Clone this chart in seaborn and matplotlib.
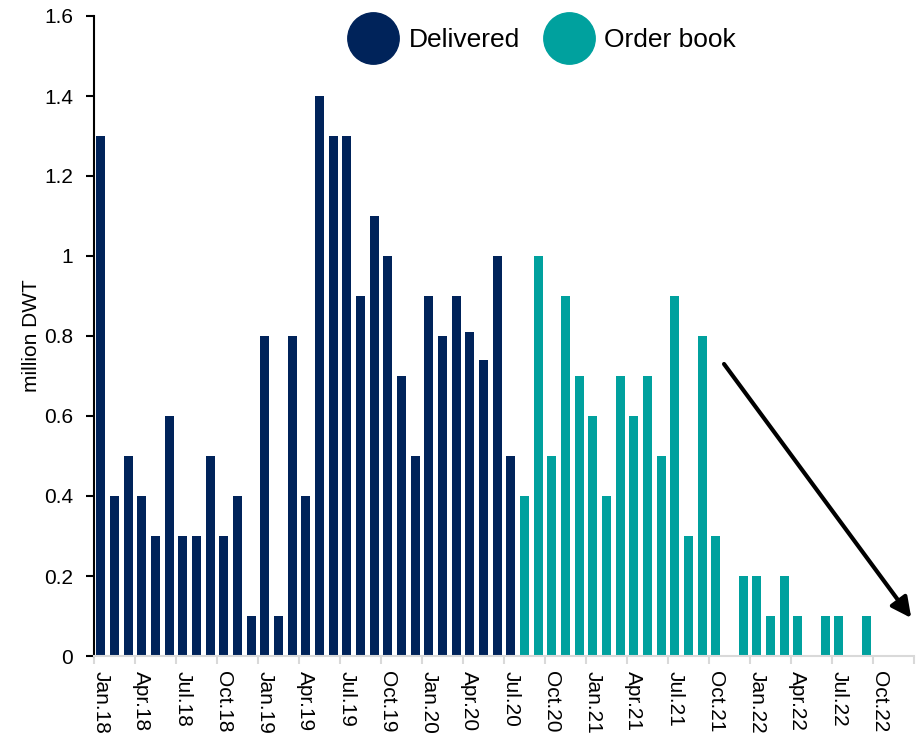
import matplotlib
matplotlib.use("Agg")
import matplotlib.pyplot as plt
from matplotlib.lines import Line2D
from matplotlib.ticker import FixedLocator
import numpy as np
import pandas as pd
import seaborn as sns

# Monthly vessel deliveries and order book, million DWT
months = [p.strftime("%b.%y") for p in pd.period_range("2018-01", "2022-12", freq="M")]

delivered = [
    1.3, 0.4, 0.5, 0.4, 0.3, 0.6, 0.3, 0.3, 0.5, 0.3, 0.4, 0.1,   # 2018
    0.8, 0.1, 0.8, 0.4, 1.4, 1.3, 1.3, 0.9, 1.1, 1.0, 0.7, 0.5,   # 2019
    0.9, 0.8, 0.9, 0.81, 0.74, 1.0, 0.5,                          # Jan-Jul 2020
]
order_book = [
    0.4, 1.0, 0.5, 0.9, 0.7,                                      # Aug-Dec 2020
    0.6, 0.4, 0.7, 0.6, 0.7, 0.5, 0.9, 0.3, 0.8, 0.3, 0.0, 0.2,   # 2021
    0.2, 0.1, 0.2, 0.1, 0.0, 0.1, 0.1, 0.0, 0.1, 0.0, 0.0, 0.0,   # 2022
]
series_names = ["Delivered", "Order book"]
colors = {"Delivered": "#00235a", "Order book": "#00a19e"}

y_ticks = [0, 0.2, 0.4, 0.6, 0.8, 1.0, 1.2, 1.4, 1.6]

df = pd.DataFrame({
    "month": months,
    "value": delivered + order_book,
    "status": [series_names[0]] * len(delivered) + [series_names[1]] * len(order_book),
})

sns.set_style("white")
plt.rcParams["font.family"] = ["Liberation Sans", "DejaVu Sans"]
plt.rcParams["text.color"] = "black"
plt.rcParams["axes.labelcolor"] = "black"
plt.rcParams["xtick.color"] = "black"
plt.rcParams["ytick.color"] = "black"

fig = plt.figure(figsize=(9.18, 7.33), dpi=100)
ax = fig.add_axes([94 / 918, 1 - 656 / 733, 820 / 918, 640 / 733])

sns.barplot(data=df, x="month", y="value", hue="status", order=months,
            hue_order=series_names, palette=colors, saturation=1, dodge=False,
            width=0.66, linewidth=0, legend=False, ax=ax)

n = len(months)
ax.set_xlim(-0.5, n - 0.5)
ax.set_ylim(0, 1.6)

# y axis
ax.set_yticks(y_ticks)
ax.set_yticklabels([f"{v:g}" for v in y_ticks], fontsize=15, color="black")
ax.tick_params(axis="y", direction="out", length=6, width=1.5, color="black", pad=9, left=True)
ax.set_ylabel("million DWT", fontsize=15, labelpad=2, color="black")

# x axis: labels at every third month, tick marks on category boundaries
label_pos = list(range(0, n, 3))
ax.set_xticks(label_pos)
ax.set_xticklabels([months[i] for i in label_pos], rotation=-90, fontsize=15,
                   va="top", ha="center", color="black")
ax.tick_params(axis="x", which="major", length=0, pad=11)
ax.xaxis.set_minor_locator(FixedLocator(np.arange(-0.5, n, 3)))
ax.tick_params(axis="x", which="minor", direction="out", length=6, width=1.5, color="#d9d9d9", bottom=True)
ax.set_xlabel("")

for side in ["top", "right"]:
    ax.spines[side].set_visible(False)
ax.spines["left"].set_color("black")
ax.spines["left"].set_linewidth(1.5)
ax.spines["bottom"].set_color("#d9d9d9")
ax.spines["bottom"].set_linewidth(1.5)

# downward trend arrow over the order book
ax.annotate("", xy=(59.3, 0.095), xytext=(45.6, 0.73),
            arrowprops=dict(arrowstyle="-|>", lw=3, color="black", mutation_scale=30,
                            shrinkA=0, shrinkB=0),
            annotation_clip=False)

handles = [Line2D([], [], marker="o", ls="", markersize=37, color=colors[s]) for s in series_names]
fig.legend(handles, series_names, loc="center", bbox_to_anchor=(542 / 918, 1 - 40 / 733),
           ncol=2, frameon=False, fontsize=19, handlelength=1.9, handletextpad=0.4,
           columnspacing=0.9)

fig.savefig("out.png", dpi=100)
